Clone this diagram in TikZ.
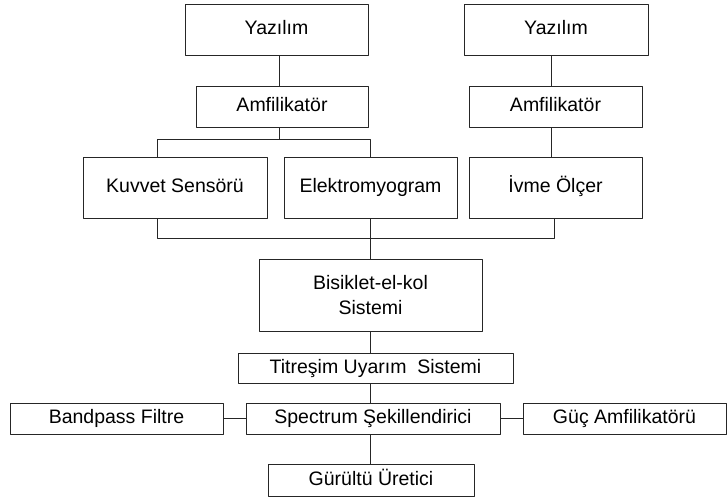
\documentclass[tikz,border=0pt]{standalone}
\usepackage{fontspec}
\setmainfont{Liberation Sans}
\begin{document}
\begin{tikzpicture}[x=1pt, y=-1pt, line join=round, line width=1pt,
	font=\fontsize{19.5}{25}\selectfont,
	blok/.style={draw=black!85, inner sep=0pt, align=center},
	tek/.style={blok, text height=14pt, text depth=4pt}]
			\useasboundingbox (0,0) rectangle (728,498);
			% ust kisim
			\node[tek, minimum width=183pt, minimum height=51pt] (yazA) at (276.5,29.5) {Yazılım};
			\node[tek, minimum width=184pt, minimum height=51pt] (yazB) at (556,29.5) {Yazılım};
			\node[tek, minimum width=172pt, minimum height=41pt] (amfA) at (282,106.5) {Amfilikatör};
			\node[tek, minimum width=173pt, minimum height=41pt] (amfB) at (555.5,106.5) {Amfilikatör};
			\node[tek, minimum width=184pt, minimum height=61pt] (kuv) at (175,187.5) {Kuvvet Sensörü};
			\node[tek, minimum width=173pt, minimum height=61pt] (emg) at (370.5,187.5) {Elektromyogram};
			\node[tek, minimum width=173pt, minimum height=61pt] (ivme) at (555.5,187.5) {İvme Ölçer};
			% orta ve alt kisim
			\node[blok, minimum width=223pt, minimum height=72pt] (bis) at (370.5,295) {Bisiklet-el-kol\\Sistemi};
			\node[tek, minimum width=275pt, minimum height=30pt] (tit) at (375.5,368) {Titreşim Uyarım\ \ Sistemi};
			\node[tek, minimum width=254pt, minimum height=31pt] (spec) at (373,418.5) {Spectrum Şekillendirici};
			\node[tek, minimum width=213pt, minimum height=31pt] (band) at (116.5,418.5) {Bandpass Filtre};
			\node[tek, minimum width=203pt, minimum height=31pt] (guc) at (624.5,418.5) {Güç Amfilikatörü};
			\node[tek, minimum width=206pt, minimum height=32pt] (gur) at (371,480) {Gürültü Üretici};
			% baglantilar
			\coordinate (xa) at (279,139);
			\coordinate (xb) at (551,0);
			\coordinate (xk) at (157,238);
			\coordinate (xi) at (554,238);
			\draw[black!85] (yazA.south -| xa) -- (amfA.north -| xa);
			\draw[black!85] (amfA.south -| xa) -- (xa);
			\draw[black!85] (kuv.north -| xk) |- (emg.north |- xa) -- (emg.north);
			\draw[black!85] (yazB.south -| xb) -- (amfB.north -| xb);
			\draw[black!85] (amfB.south -| xb) -- (ivme.north -| xb);
			\draw[black!85] (kuv.south -| xk) -- (xk) -- (xi) -- (ivme.south -| xi);
			\draw[black!85] (emg.south) -- (bis.north);
			\draw[black!85] (bis.south) -- (tit.north -| bis.south);
			\draw[black!85] (tit.south -| bis.south) -- (spec.north -| bis.south);
			\draw[black!85] (spec.south -| bis.south) -- (gur.north -| bis.south);
			\draw[black!85] (band.east) -- (spec.west);
			\draw[black!85] (spec.east) -- (guc.west);
		\end{tikzpicture}
\end{document}
